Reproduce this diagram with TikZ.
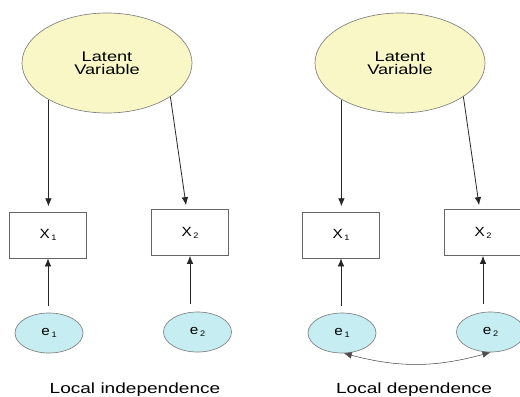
\documentclass[tikz,border=0pt]{standalone}
\usepackage{fontspec}
\setmainfont{Liberation Sans}[FakeStretch=1.3]
\newfontfamily\labfont{Liberation Sans}[FakeStretch=1.15]
\usetikzlibrary{shapes.geometric,arrows.meta}
\definecolor{latfill}{HTML}{FAF7C6}
\definecolor{errfill}{HTML}{C6EEF2}
\newcommand{\sub}[1]{\hspace{1.2pt}\raisebox{-1.5pt}{\fontsize{6}{7}\selectfont #1}}

\begin{document}
\begin{tikzpicture}[x = 0.75pt, y = -0.75pt,
	latent/.style = {ellipse, draw = black!50, line width = 0.5pt, fill = latfill, minimum width = 127.5pt, minimum height = 75pt, inner sep = 0pt, align = center, font = \fontsize{10.5}{9.5}\selectfont},
	obs/.style = {rectangle, draw = black!60, line width = 0.6pt, fill = white, minimum width = 57.75pt, minimum height = 34.5pt, font = \labfont\fontsize{10}{11}\selectfont},
	err/.style = {ellipse, draw = black!50, line width = 0.5pt, fill = errfill, minimum width = 51pt, minimum height = 30pt, inner sep = 0pt, font = \labfont\fontsize{10}{11}\selectfont},
	arr/.style = {-{Latex[length = 6pt, width = 5pt]}, line width = 0.6pt, black!85},
	dbl/.style = {{Latex[length = 6pt, width = 5pt]}-{Latex[length = 6pt, width = 5pt]}, line width = 0.4pt, black!70},
	caption/.style = {anchor = base, font = \fontsize{11}{13}\selectfont}]
\useasboundingbox (0,0) rectangle (520,396);
\clip (0,0) rectangle (520,396);
\foreach \p/\dx in {L/0, R/293}
{
	\node[latent] (lat\p) at ({107+\dx}, 63) {Latent\\Variable};
	\node[obs] (x1\p) at ({48+\dx}, 235) {X\sub{1}};
	\node[obs] (x2\p) at ({190+\dx}, 232.5) {X\sub{2}};
	\node[err] (e1\p) at ({49+\dx}, 333) {e\sub{1}};
	\node[err] (e2\p) at ({197.5+\dx}, 332) {e\sub{2}};
	\draw[arr, shorten >= 4pt] (lat\p.212) -- (lat\p.212 |- x1\p.north);
	\draw[arr, shorten >= 3pt] (lat\p.-28) -- (x2\p);
	\draw[arr, shorten <= 5pt] (x1\p |- e1\p.north) -- (x1\p);
	\draw[arr, shorten <= 6pt] (x2\p |- e2\p.north) -- (x2\p);
}
\draw[dbl] (e1R.-85) to[bend right = 15] (e2R.south);
\node[caption] (capL) at (135, 393.5) {Local independence};
\node[caption] (capR) at (414, 393.5) {Local dependence};
\end{tikzpicture}
\end{document}
